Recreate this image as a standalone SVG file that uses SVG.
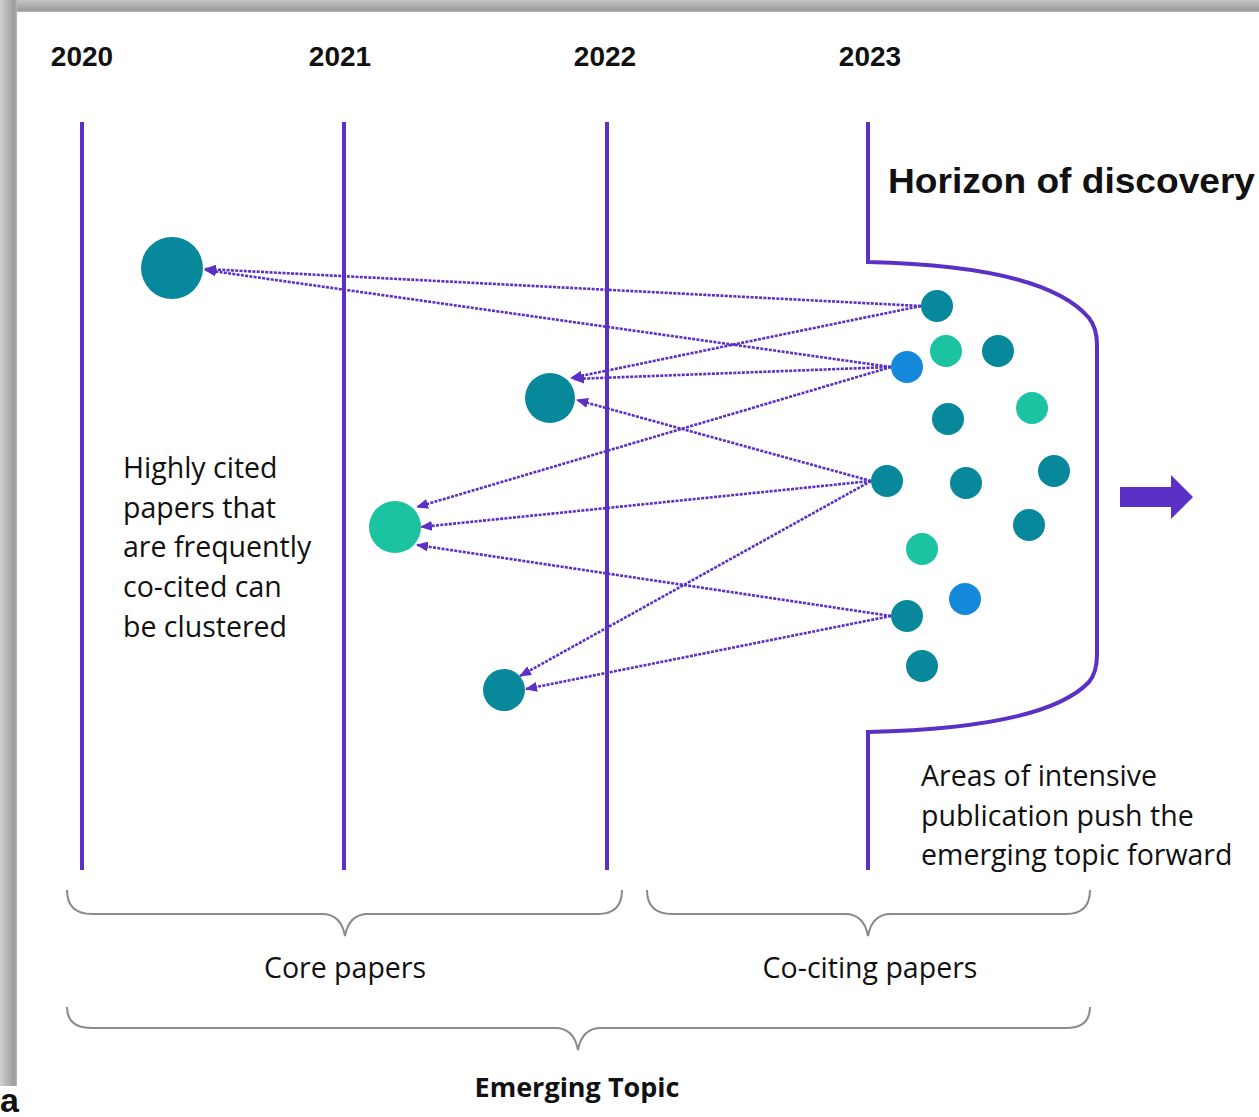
<svg xmlns="http://www.w3.org/2000/svg" width="1259" height="1117" viewBox="0 0 1259 1117">
  <defs>
    <linearGradient id="gTop" x1="0" y1="0" x2="0" y2="1">
      <stop offset="0" stop-color="#c4c4c4"/>
      <stop offset="0.85" stop-color="#9c9c9c"/>
      <stop offset="1" stop-color="#b8b8b8"/>
    </linearGradient>
    <linearGradient id="gLeft" x1="0" y1="0" x2="1" y2="0">
      <stop offset="0" stop-color="#d2d2d2"/>
      <stop offset="0.85" stop-color="#9c9c9c"/>
      <stop offset="1" stop-color="#b8b8b8"/>
    </linearGradient>
    <marker id="ah" markerUnits="userSpaceOnUse" markerWidth="12" markerHeight="10" refX="11" refY="5" orient="auto">
      <path d="M0,0 L12,5 L0,10 z" fill="#5a30c6"/>
    </marker>
    <style>
      .year { font-family: "Liberation Sans", Arial, sans-serif; font-weight: bold; font-size: 28px; fill: #111; text-anchor: middle; }
      .body { font-family: "Open Sans", "Liberation Sans", sans-serif; font-size: 28.5px; fill: #111; }
      .mid { text-anchor: middle; }
      .vline { stroke: #5a30c6; stroke-width: 4; fill: none; }
      .conn { stroke: #5a30c6; stroke-width: 2.6; stroke-dasharray: 3 1.3; fill: none; marker-end: url(#ah); }
      .brace { stroke: #8a8a8a; stroke-width: 2; fill: none; }
      .teal { fill: #08899b; }
      .green { fill: #1cc3a1; }
      .blue { fill: #1489da; }
    </style>
  </defs>

  <rect x="0" y="0" width="1259" height="1117" fill="#ffffff"/>
  <!-- frame shadow -->
  <rect x="0" y="0" width="1259" height="12" fill="url(#gTop)"/>
  <rect x="0" y="0" width="17" height="1086" fill="url(#gLeft)"/>

  <!-- year labels -->
  <g id="years">
    <text class="year" x="82" y="66">2020</text>
    <text class="year" x="340" y="66">2021</text>
    <text class="year" x="605" y="66">2022</text>
    <text class="year" x="870" y="66">2023</text>
  </g>

  <!-- timeline lines -->
  <g id="timelines">
    <line class="vline" x1="82" y1="122" x2="82" y2="870"/>
    <line class="vline" x1="344" y1="122" x2="344" y2="870"/>
    <line class="vline" x1="607" y1="122" x2="607" y2="870"/>
    <path id="horizon-line" class="vline" d="M868,122 V262 Q1045,266 1089,318 Q1097,328 1097,345 V655 Q1097,672 1089,682 Q1045,728 868,732 V870"/>
  </g>

  <text id="horizon-label" x="888" y="193" font-family="Liberation Sans, Arial, sans-serif" font-weight="bold" font-size="35" fill="#111" textLength="367" lengthAdjust="spacingAndGlyphs">Horizon of discovery</text>

  <!-- forward arrow -->
  <g id="forward-arrow">
    <path d="M1120,487 H1171 V475 L1193,497 L1171,519 V507 H1120 z" fill="#5a30c6"/>
  </g>

  <!-- connectors -->
  <g id="connectors">
    <line class="conn" x1="921" y1="306" x2="205" y2="269"/>
    <line class="conn" x1="891" y1="367" x2="205" y2="270"/>
    <line class="conn" x1="921" y1="306" x2="571" y2="378"/>
    <line class="conn" x1="891" y1="367" x2="573" y2="379"/>
    <line class="conn" x1="891" y1="367" x2="417" y2="507"/>
    <line class="conn" x1="871" y1="481" x2="577" y2="400"/>
    <line class="conn" x1="871" y1="481" x2="421" y2="527"/>
    <line class="conn" x1="871" y1="481" x2="520" y2="676"/>
    <line class="conn" x1="891" y1="616" x2="417" y2="545"/>
    <line class="conn" x1="891" y1="616" x2="526" y2="689"/>
  </g>

  <!-- core paper nodes -->
  <g id="core-a"><circle class="teal" cx="172" cy="268" r="31"/></g>
  <g id="core-b"><circle class="teal" cx="550" cy="398" r="25"/></g>
  <g id="core-c"><circle class="green" cx="395" cy="527" r="26"/></g>
  <g id="core-d"><circle class="teal" cx="504" cy="690" r="21"/></g>

  <!-- co-citing paper nodes -->
  <g id="cc-1"><circle class="teal" cx="937" cy="306" r="16"/></g>
  <g id="cc-2"><circle class="green" cx="946" cy="351" r="16"/></g>
  <g id="cc-3"><circle class="teal" cx="998" cy="351" r="16"/></g>
  <g id="cc-4"><circle class="blue" cx="907" cy="367" r="16"/></g>
  <g id="cc-5"><circle class="teal" cx="948" cy="419" r="16"/></g>
  <g id="cc-6"><circle class="green" cx="1032" cy="408" r="16"/></g>
  <g id="cc-7"><circle class="teal" cx="887" cy="481" r="16"/></g>
  <g id="cc-8"><circle class="teal" cx="966" cy="483" r="16"/></g>
  <g id="cc-9"><circle class="teal" cx="1054" cy="471" r="16"/></g>
  <g id="cc-10"><circle class="teal" cx="1029" cy="525" r="16"/></g>
  <g id="cc-11"><circle class="green" cx="922" cy="549" r="16"/></g>
  <g id="cc-12"><circle class="blue" cx="965" cy="599" r="16"/></g>
  <g id="cc-13"><circle class="teal" cx="907" cy="616" r="16"/></g>
  <g id="cc-14"><circle class="teal" cx="922" cy="666" r="16"/></g>

  <!-- annotation texts -->
  <g id="note-left">
    <text class="body" x="123" y="478">Highly cited</text>
    <text class="body" x="123" y="518">papers that</text>
    <text class="body" x="123" y="557">are frequently</text>
    <text class="body" x="123" y="597">co-cited can</text>
    <text class="body" x="123" y="637">be clustered</text>
  </g>
  <g id="note-right">
    <text class="body" x="921" y="786">Areas of intensive</text>
    <text class="body" x="921" y="826">publication push the</text>
    <text class="body" x="921" y="865">emerging topic forward</text>
  </g>

  <!-- braces -->
  <g id="brace-core">
    <path class="brace" d="M67,890 Q67,914 92,914 H322 Q341,914 345,936 Q349,914 368,914 H598 Q622,914 622,890"/>
    <text class="body mid" x="345" y="978">Core papers</text>
  </g>
  <g id="brace-cociting">
    <path class="brace" d="M647,890 Q647,914 672,914 H845 Q864,914 868,936 Q872,914 891,914 H1066 Q1090,914 1090,890"/>
    <text class="body mid" x="870" y="978">Co-citing papers</text>
  </g>
  <g id="brace-topic">
    <path class="brace" d="M67,1007 Q67,1028 92,1028 H555 Q574,1028 578,1050 Q582,1028 601,1028 H1066 Q1090,1028 1090,1007"/>
    <text x="577" y="1097" text-anchor="middle" font-family="Open Sans, Liberation Sans, sans-serif" font-weight="bold" font-size="27" fill="#111">Emerging Topic</text>
  </g>

  <text x="0" y="1112" font-family="Liberation Sans, Arial, sans-serif" font-weight="bold" font-size="34" fill="#111">a</text>
</svg>
